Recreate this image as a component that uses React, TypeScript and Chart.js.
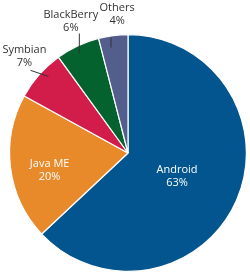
import React, { useEffect, useRef } from "react";
import { Chart, registerables } from "chart.js";

Chart.register(...registerables);

const categories = ["Android", "Java ME", "Symbian", "BlackBerry", "Others"];
const shares = [63, 20, 7, 6, 4];
const sliceColors = ["#02558F", "#E8892A", "#D21D4A", "#04622E", "#535E8C"];

const FONT = '"Open Sans", "Noto Sans", sans-serif';

// small placement nudges (pixels) relative to the library's arc geometry
const insideNudge: Record<number, [number, number]> = { 0: [-1, 2], 1: [1.5, 7] };
const insideFrac: Record<number, number> = { 0: 0.46, 1: 0.68 };
const outsideNudge: Record<number, { text: [number, number]; start: [number, number]; end: [number, number] }> = {
  2: { text: [2.5, -3.6], start: [3, -3.8], end: [-4.2, -0.4] },
  3: { text: [3, -3.5], start: [-1.8, 0.2], end: [4.3, -6.9] },
  4: { text: [6.8, 1.4], start: [-3.2, 3.8], end: [-1.4, 8] },
};

const labelPlugin = {
  id: "sliceLabels",
  afterDatasetsDraw(chart: any) {
    const ctx = chart.ctx;
    const meta = chart.getDatasetMeta(0);
    ctx.save();
    ctx.font = `500 11px ${FONT}`;
    ctx.textAlign = "center";
    ctx.textBaseline = "middle";
    meta.data.forEach((arc: any, i: number) => {
      const p = arc.getProps(["x", "y", "startAngle", "endAngle", "outerRadius"], true);
      const mid = (p.startAngle + p.endAngle) / 2;
      const cos = Math.cos(mid);
      const sin = Math.sin(mid);
      const value = shares[i];
      const lines = [categories[i], `${value}%`];
      if (value >= 10) {
        const r = p.outerRadius * (insideFrac[i] ?? 0.6);
        const n = insideNudge[i] ?? [0, 0];
        const cx = p.x + cos * r + n[0];
        const cy = p.y + sin * r + n[1];
        ctx.fillStyle = "#FFFFFF";
        ctx.fillText(lines[0], cx, cy - 6.5);
        ctx.fillText(lines[1], cx, cy + 6.5);
      } else {
        const n = outsideNudge[i] ?? { text: [0, 0], start: [0, 0], end: [0, 0] };
        const r0 = p.outerRadius * 0.93;
        const r1 = p.outerRadius + 6;
        ctx.strokeStyle = "#333333";
        ctx.lineWidth = 1;
        ctx.beginPath();
        ctx.moveTo(p.x + cos * r0 + n.start[0], p.y + sin * r0 + n.start[1]);
        ctx.lineTo(p.x + cos * r1 + n.end[0], p.y + sin * r1 + n.end[1]);
        ctx.stroke();
        const rt = p.outerRadius + 23;
        const cx = p.x + cos * rt + n.text[0];
        const cy = p.y + sin * rt + n.text[1];
        ctx.fillStyle = "#333333";
        ctx.fillText(lines[0], cx, cy - 6.5);
        ctx.fillText(lines[1], cx, cy + 6.5);
      }
    });
    ctx.restore();
  },
};

function PieChart() {
  const ref = useRef<HTMLCanvasElement | null>(null);
  useEffect(() => {
    if (!ref.current) return;
    const chart = new Chart(ref.current, {
      type: "pie",
      data: {
        labels: categories,
        datasets: [
          {
            data: shares,
            backgroundColor: sliceColors,
            borderColor: "#FFFFFF",
            borderWidth: 1.2,
          },
        ],
      },
      options: {
        responsive: false,
        animation: false,
        layout: { padding: { left: 9, right: 3, top: 34, bottom: 2 } },
        plugins: {
          legend: { display: false },
          tooltip: { enabled: false },
        },
      },
      plugins: [labelPlugin],
    });
    return () => chart.destroy();
  }, []);
  return <canvas ref={ref} width={250} height={274} style={{ display: "block" }} />;
}

export default function App() {
  return (
    <div style={{ position: "absolute", left: 0, top: 0, width: 250, height: 274, background: "#FFFFFF" }}>
      <PieChart />
    </div>
  );
}
